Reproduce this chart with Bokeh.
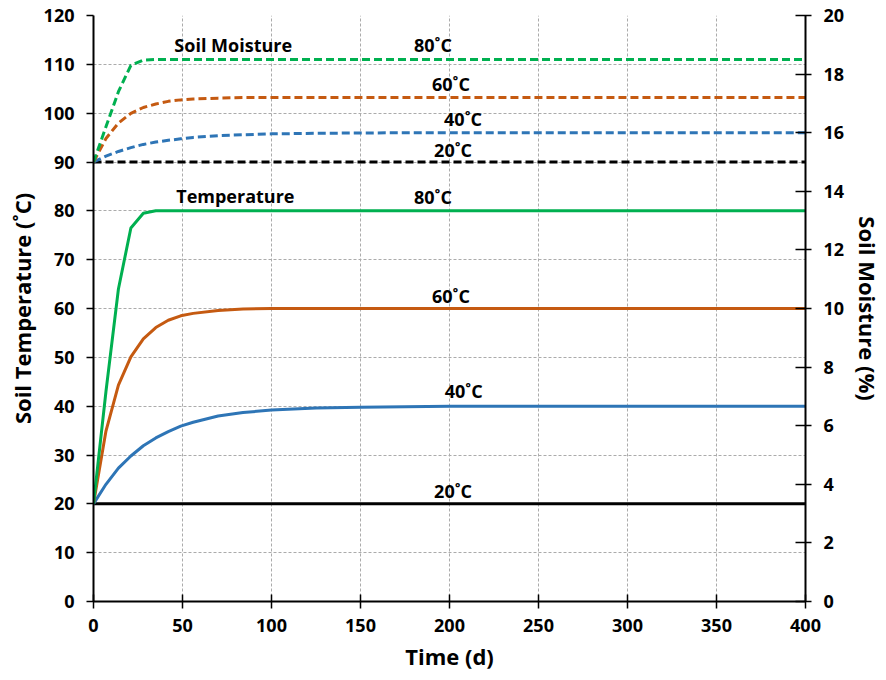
from bokeh.plotting import figure
from bokeh.models import Range1d, LinearAxis, FixedTicker, ColumnDataSource
from bokeh.core.properties import value
from bokeh.embed import file_html
from bokeh.resources import INLINE

# ---- data ----
time_d = [0, 7, 14, 21, 28, 35, 42, 49, 56, 70, 84, 100, 125, 150, 175, 200, 250, 300, 350, 400]

temp_20 = [20] * 20
temp_40 = [20, 24.0, 27.3, 29.8, 31.9, 33.5, 34.8, 35.9, 36.7, 38.0, 38.7, 39.2, 39.6, 39.8, 39.9, 40, 40, 40, 40, 40]
temp_60 = [20, 34.9, 44.3, 50.1, 53.8, 56.1, 57.6, 58.5, 59.0, 59.6, 59.9, 60, 60, 60, 60, 60, 60, 60, 60, 60]
temp_80 = [20, 43, 64, 76.5, 79.5, 80, 80, 80, 80, 80, 80, 80, 80, 80, 80, 80, 80, 80, 80, 80]

moist_20 = [15.0] * 20
moist_40 = [15.0, 15.2, 15.36, 15.49, 15.6, 15.68, 15.74, 15.79, 15.84, 15.9, 15.93, 15.96, 15.98, 15.99, 16.0, 16.0, 16.0, 16.0, 16.0, 16.0]
moist_60 = [15.0, 15.8, 16.33, 16.66, 16.86, 16.98, 17.07, 17.12, 17.15, 17.18, 17.2, 17.2, 17.2, 17.2, 17.2, 17.2, 17.2, 17.2, 17.2, 17.2]
moist_80 = [15.0, 16.2, 17.4, 18.3, 18.48, 18.5, 18.5, 18.5, 18.5, 18.5, 18.5, 18.5, 18.5, 18.5, 18.5, 18.5, 18.5, 18.5, 18.5, 18.5]

x_ticks = [0, 50, 100, 150, 200, 250, 300, 350, 400]
y_ticks = [0, 10, 20, 30, 40, 50, 60, 70, 80, 90, 100, 110, 120]
y2_ticks = [0, 2, 4, 6, 8, 10, 12, 14, 16, 18, 20]

label_text = ["Soil Moisture", "80˚C", "60˚C", "40˚C", "20˚C",
              "Temperature", "80˚C", "60˚C", "40˚C", "20˚C"]
label_x = [78.5, 190.7, 200.8, 207.6, 202, 79.7, 190.7, 200.8, 208, 202]
label_y = [114, 114, 105.9, 98.9, 92.4, 83.1, 82.9, 62.5, 43.2, 22.7]

GREEN = "#00B050"
ORANGE = "#C55A11"
BLUE = "#2E75B6"
BLACK = "#000000"
FONT = "Open Sans"

p = figure(width=886, height=680, output_backend="svg", toolbar_location=None,
           x_range=Range1d(0, 400), y_range=Range1d(0, 120),
           min_border_left=93, min_border_right=80, min_border_top=15, min_border_bottom=79)
p.extra_y_ranges = {"moist": Range1d(0, 20)}
p.outline_line_color = None
p.background_fill_color = "white"

# grids
p.xgrid.ticker = FixedTicker(ticks=x_ticks)
p.ygrid.ticker = FixedTicker(ticks=y_ticks)
for g in (p.xgrid, p.ygrid):
    g.grid_line_color = "#ababab"
    g.grid_line_dash = "3 2"
    g.grid_line_width = 1

# axes
xa = p.xaxis[0]
xa.ticker = FixedTicker(ticks=x_ticks)
xa.axis_label = "Time (d)"
xa.major_tick_in = 7
xa.major_tick_out = 7
xa.major_label_standoff = 10
xa.axis_label_standoff = 6

ya = p.yaxis[0]
ya.ticker = FixedTicker(ticks=y_ticks)
ya.axis_label = "Soil Temperature (˚C)"
ya.major_tick_in = 0
ya.major_tick_out = 7
ya.major_label_standoff = 12
ya.axis_label_standoff = 4

ya2 = LinearAxis(y_range_name="moist", ticker=FixedTicker(ticks=y2_ticks), axis_label="Soil Moisture (%)")
ya2.major_tick_in = 10
ya2.major_tick_out = 6
ya2.major_label_standoff = 12
ya2.axis_label_standoff = 6
p.add_layout(ya2, "right")

for ax in (xa, ya, ya2):
    ax.minor_tick_line_color = None
    ax.axis_line_color = BLACK
    ax.axis_line_width = 2
    ax.major_tick_line_color = BLACK
    ax.major_tick_line_width = 1.5
    ax.major_label_text_font = FONT
    ax.major_label_text_font_style = "bold"
    ax.major_label_text_font_size = "18px"
    ax.major_label_text_color = BLACK
    ax.axis_label_text_font = FONT
    ax.axis_label_text_font_style = "bold"
    ax.axis_label_text_font_size = "22px"
    ax.axis_label_text_color = BLACK

# temperature lines
for ys, c in ((temp_20, BLACK), (temp_40, BLUE), (temp_60, ORANGE), (temp_80, GREEN)):
    p.line(time_d, ys, line_color=c, line_width=3)

# moisture lines (dashed, right axis)
for ys, c in ((moist_20, BLACK), (moist_40, BLUE), (moist_60, ORANGE), (moist_80, GREEN)):
    p.line(time_d, ys, line_color=c, line_width=3, line_dash="8 4", y_range_name="moist")

src = ColumnDataSource(dict(x=label_x, y=label_y, t=label_text))
p.text(x="x", y="y", text="t", source=src, text_align="center", text_baseline="middle",
       text_font=value(FONT), text_font_style="bold", text_font_size="18px", text_color=BLACK)

open("out.html", "w").write(file_html(p, INLINE))
